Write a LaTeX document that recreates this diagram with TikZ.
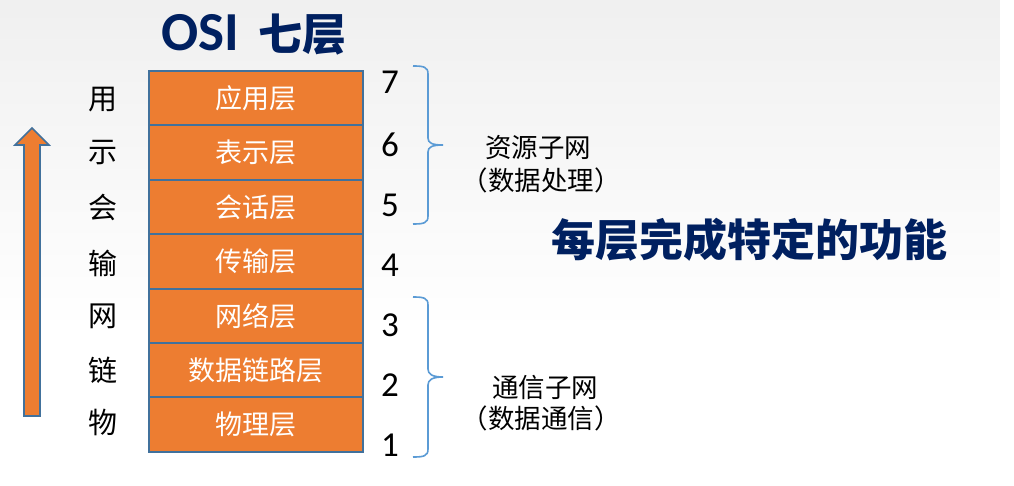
\documentclass[tikz,border=0pt]{standalone}
\usepackage{fontspec}
\setmainfont{Carlito}
\newfontfamily\cjk{Noto Sans CJK SC}
\definecolor{layerfill}{HTML}{ED7D31}
\definecolor{layerline}{HTML}{41719C}
\definecolor{bracecol}{HTML}{5B9BD5}
\definecolor{navy}{HTML}{002060}
\begin{document}
\begin{tikzpicture}[x=1pt,y=-1pt,
  layer/.style={draw=layerline, line width=2pt, fill=layerfill, minimum width=214pt, minimum height=54.4pt, inner sep=0pt, text=white, font=\cjk\fontsize{27}{30}\selectfont},
  sidechar/.style={font=\cjk\fontsize{29}{32}\selectfont, text=black},
  num/.style={font=\fontsize{35}{40}\selectfont, text=black},
  bracestyle/.style={draw=bracecol, line width=1.6pt},
  lbl/.style={font=\cjk\fontsize{26.5}{30}\selectfont, text=black}]
\useasboundingbox (0,0) rectangle (1014,486);
\shade[top color=black!6, bottom color=white] (0,0) rectangle (1000,330);
\fill[white] (0,330) rectangle (1000,486);
\fill[white] (1000,0) rectangle (1014,486);
% title
\node (title) at (254,35) {\color{navy}\fontsize{55}{60}\selectfont\bfseries OSI\hspace{20pt}{\cjk\fontsize{44}{50}\selectfont\bfseries 七层}};
% layers
\node[layer] (L7) at (256,98.2) {应用层};
\node[layer] (L6) at (256,152.6) {表示层};
\node[layer] (L5) at (256,207.0) {会话层};
\node[layer] (L4) at (256,261.4) {传输层};
\node[layer] (L3) at (256,315.8) {网络层};
\node[layer] (L2) at (256,370.2) {数据链路层};
\node[layer] (L1) at (256,424.6) {物理层};
% side characters
\node[sidechar] (s7) at (103,100) {用};
\node[sidechar] (s6) at (103,153) {示};
\node[sidechar] (s5) at (103,207) {会};
\node[sidechar] (s4) at (103,263) {输};
\node[sidechar] (s3) at (103,316) {网};
\node[sidechar] (s2) at (103,370) {链};
\node[sidechar] (s1) at (103,422) {物};
% arrow
\draw[draw=layerline, line width=1.6pt, fill=layerfill, line join=miter]
  (24,416) -- (24,145) -- (15,145) -- (32,128) -- (49,145) -- (40,145) -- (40,416) -- cycle;
% numbers
\node[num] (n7) at (390,82) {7};
\node[num] (n6) at (390,145) {6};
\node[num] (n5) at (390,205) {5};
\node[num] (n4) at (390,265) {4};
\node[num] (n3) at (390,325) {3};
\node[num] (n2) at (390,385) {2};
\node[num] (n1) at (390,445) {1};
% braces
\draw[bracestyle] (413,66) .. controls (424,66) and (428,67) .. (428,74) -- (428,138)
  .. controls (428,143) and (432,145) .. (443,145)
  .. controls (432,145) and (428,147) .. (428,152) -- (428,216)
  .. controls (428,223) and (424,224) .. (413,224);
\draw[bracestyle] (413,297) .. controls (424,297) and (428,298) .. (428,305) -- (428,369)
  .. controls (428,374) and (432,377) .. (443,377)
  .. controls (432,377) and (428,380) .. (428,385) -- (428,449)
  .. controls (428,456) and (424,457) .. (413,457);
% labels
\node[lbl] (r1) at (538,148) {资源子网};
\node[lbl] (r2) at (541,180) {（数据处理）};
\node[lbl] (c1) at (545,387) {通信子网};
\node[lbl] (c2) at (541,418) {（数据通信）};
\node (func) at (749,240) {\color{navy}\cjk\fontsize{44}{50}\selectfont\bfseries 每层完成特定的功能};
\end{tikzpicture}
\end{document}
